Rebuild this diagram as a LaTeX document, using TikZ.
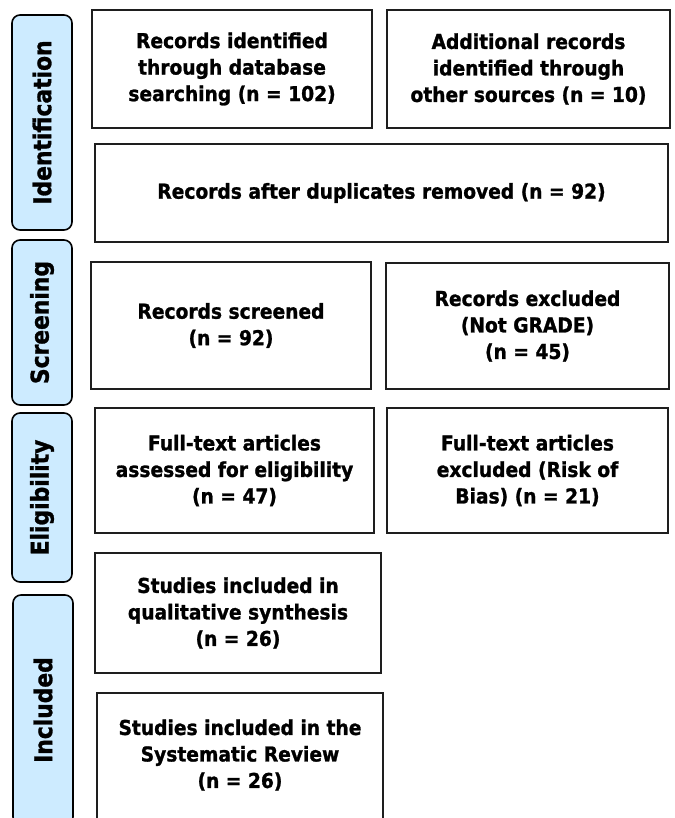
\documentclass[tikz,border=0pt]{standalone}
\usepackage{fontspec}
\setmainfont{DejaVu Sans}[FakeStretch=0.91,BoldFeatures={FakeBold=1.2}]
\newfontfamily\sidefont{DejaVu Sans}[FakeStretch=0.89,BoldFeatures={FakeBold=1.2}]
\definecolor{sidefill}{RGB}{205,235,255}
\definecolor{edge}{RGB}{30,30,30}
\tikzset{
  box/.style={draw=edge, line width=1.6pt, fill=white, align=center, inner sep=2pt,
    font=\fontsize{20.5}{26.5}\selectfont\bfseries},
  side/.style={draw=black, line width=1.6pt, fill=sidefill, rounded corners=8pt,
    rotate=90, minimum height=60pt, inner sep=0pt,
    font=\fontsize{24.5}{28}\selectfont\sidefont\bfseries},
  labeltext/.style={align=center, inner sep=0pt,
    font=\fontsize{20.5}{26.5}\selectfont\bfseries}
}
\begin{document}
\begin{tikzpicture}[x=1pt,y=-1pt]
\useasboundingbox (0,0) rectangle (674,818);
\clip (0,0) rectangle (674,818);
\fill[white] (0,0) rectangle (674,818);

% phase labels
\node[side, minimum width=215pt] (s1) at (42,122.5) {Identification};
\node[side, minimum width=165pt] (s2) at (42,322.5) {Screening};
\node[side, minimum width=169pt] (s3) at (42,497.5) {Eligibility};
\node[side, minimum width=230pt] (s4) at (43,710) {Included};

% boxes
\node[box, minimum width=280pt, minimum height=118pt] (b1) at (232,69)
  {Records identified\\through database\\searching (n = 102)};
\node[box, minimum width=283pt, minimum height=118pt] (b2) at (528.5,69)
  {Additional records\\identified through\\other sources (n = 10)};
\node[box, minimum width=573pt, minimum height=98pt] (b3) at (381.5,193)
  {Records after duplicates removed (n = 92)};
\node[box, minimum width=280pt, minimum height=127pt] (b4) at (231,325.5)
  {Records screened\\(n = 92)};
\node[box, minimum width=283pt, minimum height=126pt] (b5) at (527.5,326)
  {Records excluded\\(Not GRADE)\\(n = 45)};
\node[box, minimum width=279pt, minimum height=125pt] (b6) at (234.5,470.5)
  {Full-text articles\\assessed for eligibility\\(n = 47)};
\node[box, minimum width=281pt, minimum height=125pt] (b7) at (527.5,470.5)
  {Full-text articles\\excluded (Risk of\\Bias) (n = 21)};
\node[box, minimum width=286pt, minimum height=120pt] (b8) at (238,613)
  {Studies included in\\qualitative synthesis\\(n = 26)};
\node[box, minimum width=286pt, minimum height=147pt,
  label={[labeltext, anchor=north, yshift=-27pt]north:{Studies included in the\\Systematic Review\\(n = 26)}}]
  (b9) at (240,766.5) {};
\end{tikzpicture}
\end{document}
